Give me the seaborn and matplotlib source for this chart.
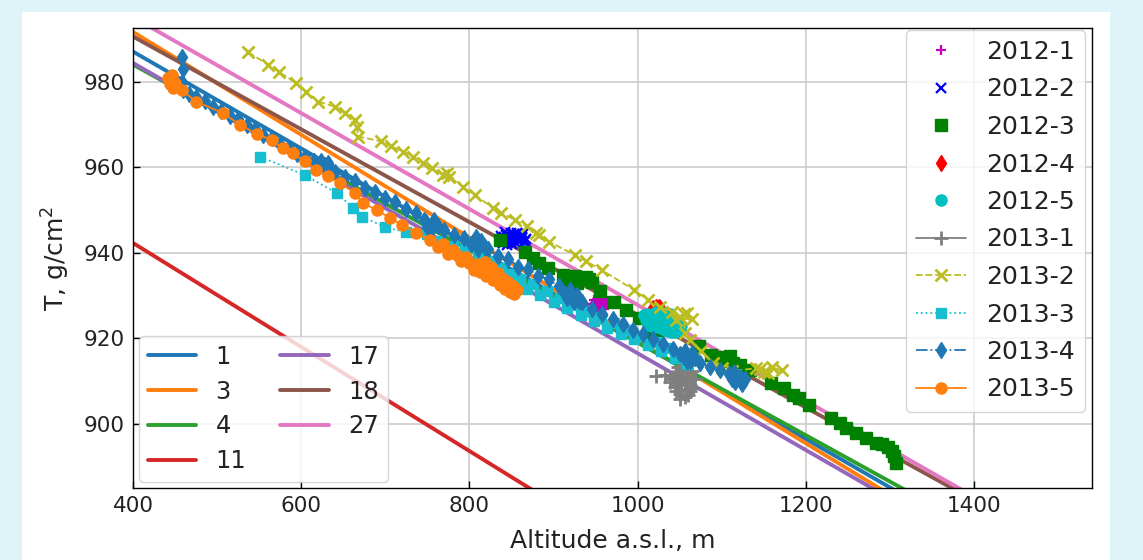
import numpy as np
import pandas as pd
import matplotlib
matplotlib.use("Agg")
import matplotlib.pyplot as plt
import seaborn as sns
from matplotlib.patches import Rectangle
from matplotlib.lines import Line2D

# ---------------- data ----------------
fit_labels = ['1', '3', '4', '11', '17', '18', '27']
fit_T0 = [1032.4, 1039.8, 1027.4, 991.0, 1029.7, 1034.0, 1040.0]      # T at h = 0
fit_slope = [-0.1133, -0.1203, -0.1084, -0.1217, -0.1132, -0.1085, -0.1122]
fit_colors = ['#1f77b4', '#ff7f0e', '#2ca02c', '#d62728', '#9467bd', '#8c564b', '#e377c2']

s2012_1_h = [946, 948, 950, 952, 954, 956, 958, 960, 962, 964, 947, 949, 951, 953, 955, 957, 959, 961, 963,
             950, 954, 958, 952, 956, 960]
s2012_1_T = [928.0, 928.9, 927.3, 929.2, 928.1, 929.4, 927.6, 928.8, 927.9, 928.3, 927.4, 928.2, 929.0, 927.1,
             928.6, 927.0, 929.1, 927.5, 928.7, 928.5, 929.5, 928.0, 927.8, 928.4, 926.9]

s2012_2_h = [837, 840, 843, 846, 849, 852, 855, 858, 861, 864, 867, 838, 841, 844, 847, 850, 853, 856, 859, 862,
             865, 842, 848, 854, 860, 866, 845, 851, 857, 863]
s2012_2_T = [943.2, 942.4, 944.1, 942.9, 944.6, 943.5, 942.2, 944.3, 943.0, 944.5, 943.3, 944.0, 943.7, 942.6,
             943.9, 942.1, 944.4, 943.1, 942.7, 943.8, 942.5, 944.8, 943.3, 943.6, 944.1, 942.8, 941.9, 942.9,
             944.7, 943.4]

s2012_3_h = [836, 866, 876, 883, 893, 911, 918, 925, 932, 939, 946, 915, 928, 942, 955, 972, 986, 1002, 1015, 1018,
             1022, 1073, 1087, 1100, 1105, 1110, 1113, 1121, 1133, 1158, 1174, 1184, 1192, 1204, 1230, 1240, 1248,
             1260, 1271, 1283, 1290, 1297, 1302, 1305, 1307]
s2012_3_T = [943.0, 940.3, 938.8, 937.6, 936.4, 934.8, 934.2, 934.6, 933.8, 934.4, 933.2, 933.6, 933.0, 933.9, 931.0,
             928.6, 926.7, 924.7, 922.4, 921.4, 922.0, 918.1, 916.1, 915.6, 914.6, 915.8, 914.2, 913.8, 912.6, 909.5,
             908.3, 906.8, 906.0, 904.4, 901.3, 900.2, 899.0, 897.8, 896.7, 895.5, 895.2, 894.7, 893.6, 892.4, 890.8]

s2012_4_h = [1016, 1018, 1020, 1022, 1024, 1026, 1028, 1030, 1017, 1019, 1021, 1023, 1025, 1027]
s2012_4_T = [926.4, 927.1, 925.9, 927.3, 926.2, 927.0, 926.3, 926.0, 925.6, 926.6, 926.8, 925.7, 927.4, 925.8]

s2012_5_h = [1008, 1012, 1016, 1020, 1024, 1028, 1032, 1036, 1040, 1044, 1048, 1052, 1010, 1014, 1018, 1022, 1026,
             1030, 1034, 1038, 1042, 1046, 1050, 1012, 1016, 1020, 1024, 1028, 1032, 1036, 1040, 1044, 1022, 1030,
             1038]
s2012_5_T = [925.4, 925.8, 925.2, 925.9, 925.0, 924.8, 925.3, 924.6, 924.0, 923.8, 923.4, 922.9, 924.2, 924.6,
             924.0, 924.4, 923.8, 924.0, 923.4, 923.0, 922.6, 922.4, 922.0, 923.2, 923.0, 922.6, 922.8, 922.4,
             922.0, 921.8, 921.6, 921.5, 926.2, 926.0, 925.6]

s2013_1_h = [1022, 1032, 1040, 1046, 1052, 1058, 1064, 1068, 1062, 1056, 1050, 1044, 1038, 1048, 1054, 1060, 1056,
             1050, 1046, 1052, 1058, 1062, 1054, 1048, 1042, 1050, 1056, 1066, 1060, 1052]
s2013_1_T = [911.2, 911.4, 910.6, 911.8, 912.6, 913.8, 912.4, 910.6, 909.0, 908.2, 907.0, 908.6, 909.8, 910.4,
             911.0, 910.2, 906.4, 905.8, 907.6, 909.4, 911.2, 907.8, 912.0, 913.2, 910.9, 909.0, 909.6, 908.4,
             906.8, 908.0]

s2013_2_h = [537, 561, 573, 594, 606, 620, 640, 652, 664, 666, 668, 695, 707, 721, 733, 745, 755, 768, 773, 776, 792,
             806, 828, 838, 854, 868, 879, 883, 895, 925, 939, 957, 996, 1012, 1026, 1041, 1050, 1058, 1064, 1046,
             1055, 1056, 1062, 1075, 1090, 1100, 1112, 1141, 1150, 1160, 1171, 1155, 1145]
s2013_2_T = [986.9, 984.0, 982.4, 979.7, 977.7, 975.4, 974.2, 972.7, 971.1, 969.5, 967.2, 966.1, 964.9, 963.7, 962.5,
             961.0, 959.8, 958.2, 958.6, 957.8, 955.5, 953.6, 950.5, 949.3, 947.7, 946.2, 944.6, 944.2, 942.6, 939.5,
             938.0, 936.0, 931.3, 929.0, 927.4, 926.2, 925.0, 926.0, 924.6, 924.4, 925.6, 921.3, 919.6, 917.0, 914.2,
             913.0, 912.4, 913.0, 912.2, 913.2, 912.6, 912.0, 912.8]

s2013_3_h = [551, 604, 642, 662, 672, 700, 725, 750, 765, 780, 795, 810, 825, 838, 850, 860, 868, 876, 884, 892, 900,
             908, 916, 924, 932, 940, 948, 956, 964, 972, 980, 988, 996, 1004, 1012, 1020, 1028, 1036, 1044, 1052,
             1058]
s2013_3_T = [962.5, 958.2, 954.0, 950.5, 948.5, 946.0, 944.8, 944.5, 942.8, 941.5, 940.8, 939.2, 938.0, 936.5, 935.0,
             933.8, 931.5, 932.8, 930.2, 931.0, 928.5, 929.5, 927.0, 928.0, 925.5, 926.5, 924.0, 925.0, 922.5, 923.5,
             921.0, 922.0, 919.8, 920.5, 918.5, 919.2, 917.0, 917.8, 915.5, 916.2, 914.0]

s2013_4_h = [458, 459, 458, 460, 466, 475, 485, 495, 505, 515, 525, 535, 545, 555, 565, 575, 585, 595, 605, 615,
             620, 624, 632, 628, 634, 622, 628, 640, 652, 664, 676, 688, 700, 712, 724, 736, 746,
             750, 758, 762, 754, 748, 756, 770, 782, 794, 802, 808, 814, 818, 810, 804, 812, 822, 834, 846, 858, 870,
             882, 894, 906, 914, 920, 928, 924, 916, 922, 930, 934, 946, 958, 970, 982, 994, 1006, 1018, 1030, 1042,
             1050, 1056, 1064, 1068, 1062, 1054, 1058, 1066, 1074, 1086, 1098, 1108, 1114, 1122, 1128, 1124, 1116,
             1112, 1120]
s2013_4_T = [985.8, 983.0, 980.0, 978.0, 977.2, 976.5, 975.6, 974.2, 973.3, 972.0, 971.2, 969.8, 969.0, 967.6, 966.8,
             965.4, 964.6, 963.2, 962.4, 961.5, 960.0, 961.6, 961.0, 959.4, 959.8, 961.0, 960.6, 959.0, 957.8,
             956.8, 955.2, 954.2, 952.8, 951.8, 950.2, 949.4, 947.8, 946.0, 947.6, 946.2, 945.4, 947.2, 946.6,
             945.4, 944.2, 943.4, 942.0, 943.6, 942.8, 941.4, 941.0, 942.6, 942.2, 940.8, 939.2, 938.6, 936.8, 936.2,
             934.6, 933.8, 932.2, 930.4, 931.2, 930.2, 928.6, 929.4, 929.8, 928.8, 928.4, 926.8, 925.8, 924.6, 923.4,
             922.0, 921.0, 919.8, 918.8, 917.6, 916.4, 917.0, 916.6, 915.4, 914.6, 915.8, 914.8, 915.6, 914.2, 913.4,
             912.6, 911.6, 912.2, 911.0, 910.4, 909.4, 909.8, 910.6, 910.8]

s2013_5_h = [442, 446, 450, 444, 448, 458, 475, 507, 527, 547, 565, 578, 590, 604, 618, 632, 646, 664, 673, 690, 705,
             720, 737, 753, 762, 768, 774, 780, 785, 790, 796, 800, 805, 808, 812, 816, 820, 824, 828, 832, 836, 838,
             842, 845, 848, 850, 853, 856, 852, 846, 840, 834, 826, 818]
s2013_5_T = [980.8, 981.5, 979.8, 979.5, 978.6, 978.1, 975.4, 972.7, 970.0, 967.8, 966.4, 964.5, 963.3, 961.4, 959.5,
             957.9, 956.3, 954.0, 951.7, 950.0, 948.2, 946.5, 944.7, 943.0, 941.4, 942.0, 939.8, 940.6, 939.5, 938.2,
             939.0, 937.6, 936.0, 937.4, 935.6, 936.4, 934.6, 935.2, 933.6, 934.2, 932.4, 933.2, 931.6, 932.5, 930.8,
             931.8, 930.4, 931.3, 932.2, 933.2, 934.0, 935.2, 936.6, 937.8]

# ---------------- style ----------------
sns.set_theme(style="whitegrid", color_codes=False)
plt.rcParams['font.family'] = ['DejaVu Sans']
plt.rcParams['mathtext.fontset'] = 'dejavusans'

fig = plt.figure(figsize=(11.43, 5.6), dpi=100)
fig.patch.set_facecolor('#dff4f9')
fig.patches.append(Rectangle((22 / 1143, 0), (1110 - 22) / 1143, 1 - 12 / 560,
                             transform=fig.transFigure, facecolor='white', edgecolor='none', zorder=-10))
ax = fig.add_axes([133 / 1143, 1 - 488 / 560, (1092 - 133) / 1143, (488 - 28) / 560])
ax.set_facecolor('white')

# fit lines
h_range = np.array([0.0, 1600.0])
for lab, t0, sl, col in zip(fit_labels, fit_T0, fit_slope, fit_colors):
    sns.lineplot(x=h_range, y=t0 + sl * h_range, color=col, linewidth=2.8, ax=ax, legend=False)


def draw(h, T, color, marker, ls, ms, mew, lw=1.3):
    sns.lineplot(x=h, y=T, sort=False, estimator=None, color=color, marker=marker, linestyle=ls,
                 markersize=ms, linewidth=lw, markeredgecolor=color, markerfacecolor=color,
                 markeredgewidth=mew, ax=ax, legend=False)


series = [
    ('2012-1', s2012_1_h, s2012_1_T, '#bf00bf', '+', 'none', 7, 1.6),
    ('2012-2', s2012_2_h, s2012_2_T, '#0000ff', 'x', 'none', 7, 1.6),
    ('2012-3', s2012_3_h, s2012_3_T, '#008000', 's', 'none', 8, 1.0),
    ('2012-4', s2012_4_h, s2012_4_T, '#ff0000', 'd', 'none', 8, 1.0),
    ('2012-5', s2012_5_h, s2012_5_T, '#00bfbf', 'o', 'none', 8, 1.0),
    ('2013-1', s2013_1_h, s2013_1_T, '#7f7f7f', '+', '-', 10, 2.0),
    ('2013-2', s2013_2_h, s2013_2_T, '#bcbd22', 'x', '--', 8, 2.0),
    ('2013-3', s2013_3_h, s2013_3_T, '#17becf', 's', ':', 7, 1.0),
    ('2013-4', s2013_4_h, s2013_4_T, '#1f77b4', 'd', '-.', 8, 1.0),
    ('2013-5', s2013_5_h, s2013_5_T, '#ff7f0e', 'o', '-', 8, 1.0),
]
for lab, h, T, col, mk, ls, ms, mew in series:
    draw(h, T, col, mk, ls, ms, mew)

ax.set_xlim(400, 1540)
ax.set_ylim(885, 992.6)
ax.set_xticks([400, 600, 800, 1000, 1200, 1400])
ax.set_yticks([900, 920, 940, 960, 980])
ax.grid(True, color='#cccccc', linewidth=1.2)
for sp in ax.spines.values():
    sp.set_color('black')
    sp.set_linewidth(1.0)
ax.tick_params(direction='in', length=5, width=1, colors='black', labelsize=15.5, pad=6,
               left=True, bottom=True, top=False, right=False, labelcolor='#222222')
ax.set_xlabel('Altitude a.s.l., m', fontsize=18, color='#222222', labelpad=9)
ax.set_ylabel('T, g/cm$^2$', fontsize=18, color='#222222', labelpad=8)

# legends
fit_handles = [Line2D([], [], color=c, lw=2.8) for c in fit_colors]
leg1 = ax.legend(fit_handles, fit_labels, loc='lower left', ncol=2, fontsize=17.5, handlelength=2.0,
                 columnspacing=1.4, labelspacing=0.45, borderpad=0.35, frameon=True, framealpha=0.8,
                 edgecolor='#cccccc', fancybox=True, borderaxespad=0.25)
ax.add_artist(leg1)

data_handles = [Line2D([], [], color=col, marker=mk, linestyle=ls, markersize=ms, markeredgecolor=col,
                       markerfacecolor=col, linewidth=1.3, markeredgewidth=mew)
                for lab, h, T, col, mk, ls, ms, mew in series]
data_labels = [s[0] for s in series]
leg2 = ax.legend(data_handles, data_labels, loc='upper right', fontsize=18, handlelength=2.0,
                 labelspacing=0.54, frameon=True, framealpha=0.8, edgecolor='#cccccc', fancybox=True,
                 bbox_to_anchor=(1 - 7 / 959, 1 - 2 / 460), borderaxespad=0.0, numpoints=1)
for t in leg1.get_texts() + leg2.get_texts():
    t.set_color('#222222')

fig.savefig('out.png', dpi=100, facecolor=fig.get_facecolor())
